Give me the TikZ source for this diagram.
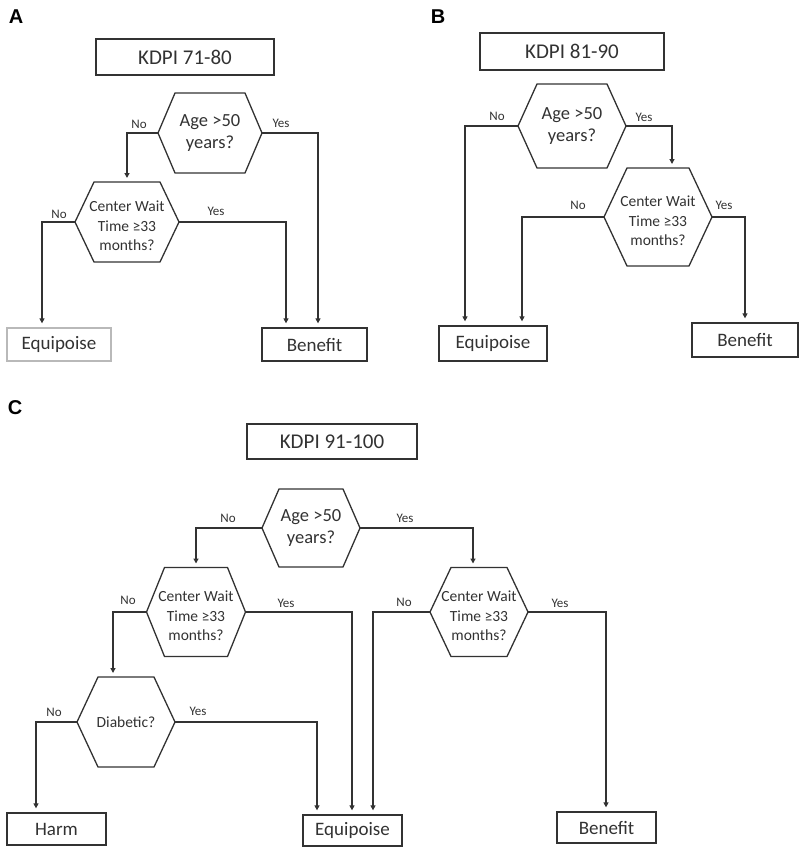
\documentclass[tikz,border=0pt]{standalone}
\usepackage{fontspec}
\setmainfont{Carlito}
\newfontfamily\lettfont{Liberation Sans}
\usetikzlibrary{arrows.meta,calc}
\definecolor{lc}{RGB}{50,50,50}
\newcommand\hexag[8]{%
 \node[htext,#7] (#1) at (#2,#3) {#8};
 \coordinate (#1-W) at (#2-#4,#3);
 \coordinate (#1-E) at (#2+#4,#3);
 \coordinate (#1-N) at (#2,#3-#5);
 \path[hexline] (#1-W) -- (#2-#4+#6,#3-#5) -- (#2+#4-#6,#3-#5) -- (#1-E) -- (#2+#4-#6,#3+#5) -- (#2-#4+#6,#3+#5) -- cycle;
}
\begin{document}
\begin{tikzpicture}[x=1pt,y=-1pt,
 box/.style={draw=lc, line width=1.3pt, text=lc, inner sep=0pt},
 title/.style={box, font=\fontsize{21}{25}\selectfont},
 outc/.style={box, font=\fontsize{19}{23}\selectfont},
 hexline/.style={draw=lc, line width=1.3pt, line join=miter},
 htext/.style={text=lc, align=center, inner sep=0pt},
 agefont/.style={font=\fontsize{18.5}{22}\selectfont},
 waitfont/.style={font=\fontsize{15.5}{19.5}\selectfont, yshift=-4pt},
 yn/.style={text=lc, font=\fontsize{13}{15}\selectfont, inner sep=0pt},
 arr/.style={draw=lc, line width=1.3pt, -{Triangle[length=5pt,width=5pt]}, shorten >=4pt},
 lett/.style={font=\lettfont\bfseries\fontsize{20}{24}\selectfont, inner sep=0pt}]
\useasboundingbox (0,0) rectangle (800,848);

% ---------- Panel A ----------
\node[lett] (letA) at (16,17) {A};
\node[title, minimum width=178pt, minimum height=36pt] (titleA) at (185,57) {KDPI 71-80};
\hexag{ageA}{210}{133}{52}{40}{17}{agefont}{Age >50\\years?}
\hexag{waitA}{127}{222}{52}{40}{19}{waitfont}{Center Wait\\Time ≥33\\months?}
\node[outc, draw=gray!55, minimum width=104pt, minimum height=33pt] (eqA) at (59,344.5) {Equipoise};
\node[outc, minimum width=105pt, minimum height=33pt] (benA) at (314.5,344.5) {Benefit};
\draw[arr] (ageA-W) -| (waitA-N);
\draw[arr] (ageA-E) -| ([xshift=3.5pt]benA.north);
\draw[arr] (waitA-W) -| ([xshift=-17pt]eqA.north);
\draw[arr] (waitA-E) -| ([xshift=-28.5pt]benA.north);
\node[yn] (nA1) at (139,124) {No};
\node[yn] (yA1) at (281,123) {Yes};
\node[yn] (nA2) at (59,214) {No};
\node[yn] (yA2) at (216,211) {Yes};

% ---------- Panel B ----------
\node[lett] (letB) at (438,17) {B};
\node[title, minimum width=184pt, minimum height=37pt] (titleB) at (572,51.5) {KDPI 81-90};
\hexag{ageB}{572}{126}{54}{42}{19}{agefont}{Age >50\\years?}
\hexag{waitB}{658}{217}{54}{49}{23}{waitfont}{Center Wait\\Time ≥33\\months?}
\node[outc, minimum width=108pt, minimum height=35pt] (eqB) at (493,343.5) {Equipoise};
\node[outc, minimum width=106pt, minimum height=34pt] (benB) at (745,340) {Benefit};
\draw[arr] (ageB-W) -| ([xshift=-28pt]eqB.north);
\draw[arr] (ageB-E) -| ([xshift=14pt]waitB-N);
\draw[arr] (waitB-W) -| ([xshift=29pt]eqB.north);
\draw[arr] (waitB-E) -| (benB.north);
\node[yn] (nB1) at (497,116) {No};
\node[yn] (yB1) at (644,117) {Yes};
\node[yn] (nB2) at (578,205) {No};
\node[yn] (yB2) at (724,205) {Yes};

% ---------- Panel C ----------
\node[lett] (letC) at (15,408) {C};
\node[title, minimum width=170pt, minimum height=35pt] (titleC) at (332,441.5) {KDPI 91-100};
\hexag{ageC}{311}{528}{49}{39}{17}{agefont}{Age >50\\years?}
\hexag{waitCL}{196}{612}{49.5}{44.5}{18}{waitfont}{Center Wait\\Time ≥33\\months?}
\hexag{waitCR}{479}{612}{49}{44.5}{21}{waitfont}{Center Wait\\Time ≥33\\months?}
\hexag{diab}{126}{722}{49}{45}{21}{font=\fontsize{15.5}{19}\selectfont}{Diabetic?}
\node[outc, minimum width=99pt, minimum height=32pt] (harm) at (56.5,829) {Harm};
\node[outc, minimum width=99pt, minimum height=31pt] (eqC) at (352.5,830.5) {Equipoise};
\node[outc, minimum width=99pt, minimum height=31pt] (benC) at (606.5,827.5) {Benefit};
\draw[arr] (ageC-W) -| (waitCL-N);
\draw[arr] (ageC-E) -| ([xshift=-6pt]waitCR-N);
\draw[arr] (waitCL-W) -| ([xshift=-13pt]diab-N);
\draw[arr] (waitCL-E) -| ([xshift=-0.5pt]eqC.north);
\draw[arr] (diab-W) -| ([xshift=-20.5pt]harm.north);
\draw[arr] (diab-E) -| ([xshift=-35.5pt]eqC.north);
\draw[arr] (waitCR-W) -| ([xshift=20.5pt]eqC.north);
\draw[arr] (waitCR-E) -| ([xshift=-0.5pt]benC.north);
\node[yn] (nC1) at (228,518) {No};
\node[yn] (yC1) at (405,518) {Yes};
\node[yn] (nC2) at (128,600) {No};
\node[yn] (yC2) at (286,603) {Yes};
\node[yn] (nC3) at (54,712) {No};
\node[yn] (yC3) at (198,711) {Yes};
\node[yn] (nC4) at (404,602) {No};
\node[yn] (yC4) at (560,603) {Yes};
\end{tikzpicture}
\end{document}
